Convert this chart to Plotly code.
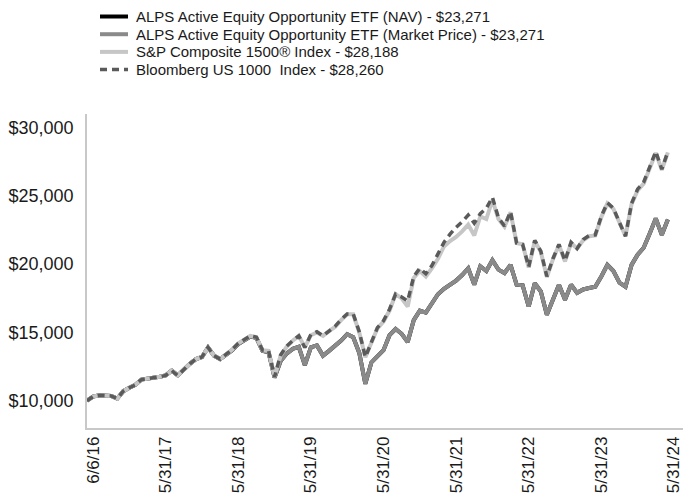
import pandas as pd
import plotly.graph_objects as go

# Categories: inception date followed by month-end dates
dates = ["6/6/16"] + [d.strftime("%-m/%-d/%y") for d in pd.date_range("2016-06-30", "2024-05-31", freq="ME")]

tick_labels = ["6/6/16", "5/31/17", "5/31/18", "5/31/19", "5/31/20",
               "5/31/21", "5/31/22", "5/31/23", "5/31/24"]

y_tick_values = [10000, 15000, 20000, 25000, 30000]
y_tick_labels = ["$10,000", "$15,000", "$20,000", "$25,000", "$30,000"]

nav = [10000, 10300, 10390, 10400, 10350, 10150, 10700, 10950, 11160, 11550,
       11600, 11650, 11750, 11850, 12200, 11850, 12300, 12700, 13050, 13200,
       13900, 13300, 13050, 13400, 13700, 14150, 14450, 14700, 14600, 13650,
       13550, 11700, 12900, 13450, 13800, 13950, 12600, 13900, 14050, 13300,
       13650, 14000, 14400, 14870, 14650, 13500, 11240, 12800, 13300, 13700,
       14800, 15250, 14900, 14300, 15900, 16600, 16450, 17100, 17800, 18200,
       18500, 18800, 19200, 19700, 18500, 19850, 19500, 20300, 19600, 19350,
       19950, 18500, 18450, 16900, 18600, 18000, 16300, 17400, 18500, 17400,
       18500, 17900, 18150, 18250, 18350, 19100, 19950, 19500, 18650, 18350,
       19950, 20700, 21200, 22250, 23350, 22150, 23271]

market = list(nav)

sp1500 = [10000, 10300, 10390, 10400, 10350, 10150, 10700, 10950, 11160, 11550,
          11600, 11650, 11750, 11850, 12200, 11850, 12300, 12700, 13050, 13200,
          13900, 13300, 13050, 13400, 13750, 14200, 14500, 14750, 14650, 13700,
          13650, 11750, 13300, 13950, 14400, 14750, 13900, 14800, 15000, 14750,
          15100, 15400, 15900, 16330, 16330, 15000, 13180, 14300, 15300, 15800,
          16600, 17800, 17500, 16900, 19000, 19500, 19100, 19700, 20400, 21300,
          21700, 22000, 22400, 22900, 22100, 23500, 23300, 24700, 23300, 22750,
          23800, 21550, 21450, 19750, 21700, 20900, 19050, 20350, 21400, 20200,
          21550, 21150, 21750, 22050, 22100, 23450, 24450, 24050, 23000, 22050,
          24400, 25400, 25900, 27100, 28150, 26900, 28188]

bbg1000 = [10000, 10300, 10390, 10400, 10350, 10150, 10700, 10950, 11160, 11550,
           11600, 11650, 11750, 11850, 12200, 11850, 12300, 12700, 13050, 13200,
           13900, 13300, 13050, 13400, 13750, 14200, 14500, 14750, 14650, 13700,
           13650, 11750, 13350, 14000, 14400, 14750, 13900, 14850, 15050, 14750,
           15100, 15450, 15950, 16350, 16350, 15050, 13200, 14350, 15350, 15850,
           16700, 17800, 17600, 17300, 19100, 19700, 19300, 19900, 20700, 21600,
           22200, 22700, 23100, 23600, 23000, 23700, 24100, 24900, 23400, 22800,
           23850, 21550, 21450, 19800, 21750, 20950, 19100, 20400, 21450, 20250,
           21600, 21150, 21800, 22100, 22150, 23500, 24500, 24100, 23050, 22050,
           24450, 25500, 26000, 27200, 28250, 26950, 28260]

names = ["ALPS Active Equity Opportunity ETF (NAV) - $23,271",
         "ALPS Active Equity Opportunity ETF (Market Price) - $23,271",
         "S&P Composite 1500® Index - $28,188",
         "Bloomberg US 1000  Index - $28,260"]

colors = ["#000000", "#8a8a8a", "#c6c6c6", "#5a5a5a"]
widths = [4, 4, 4, 3.5]
dashes = ["solid", "solid", "solid", "7px,5px"]
series = [nav, market, sp1500, bbg1000]

FONT = "Liberation Sans, Arial, Helvetica, sans-serif"

fig = go.Figure()
for name, vals, c, w, d in zip(names, series, colors, widths, dashes):
    fig.add_trace(go.Scatter(x=dates, y=vals, name=name, mode="lines",
                             line=dict(color=c, width=w, dash=d),
                             showlegend=False))

# Legend drawn above the plot area (compact line spacing as in the reference)
legend_rows = [1.3105, 1.2541, 1.1978, 1.1414]
for name, c, w, d, yy in zip(names, colors, widths, dashes, legend_rows):
    fig.add_shape(type="line", xref="paper", yref="paper",
                  x0=0.0218, x1=0.0688, y0=yy, y1=yy,
                  line=dict(color=c, width=w, dash=d))
    fig.add_annotation(text=name, xref="paper", yref="paper",
                       x=0.0790, y=yy, xanchor="left", yanchor="middle",
                       showarrow=False,
                       font=dict(size=15, family=FONT, color="#1a1a1a"))

fig.update_layout(
    width=683, height=497,
    margin=dict(l=87, r=0, t=114, b=69),
    paper_bgcolor="white", plot_bgcolor="white",
    font=dict(family=FONT, color="#1a1a1a"),
    showlegend=False,
    hovermode=False,
    xaxis=dict(type="category", range=[0, 98.5], automargin=False,
               tickmode="array", tickvals=tick_labels, ticktext=tick_labels,
               tickangle=-90, tickfont=dict(size=17, family=FONT, color="#1a1a1a"),
               showgrid=False, zeroline=False, ticks="",
               showline=True, linecolor="#c8c8c8", linewidth=1.5,
               ticklabelshift=6, ticklabeloverflow="allow"),
    yaxis=dict(range=[8000, 31000], tickmode="array", automargin=False,
               tickvals=y_tick_values, ticktext=y_tick_labels,
               tickfont=dict(size=18, family=FONT, color="#1a1a1a"),
               showgrid=False, zeroline=False, ticks="",
               showline=True, linecolor="#c8c8c8", linewidth=1.5,
               ticklabelstandoff=8),
)

fig.write_html("out.html",
               config={"displayModeBar": False},
               post_script="document.body.style.margin='0px';document.body.style.overflow='hidden';")
